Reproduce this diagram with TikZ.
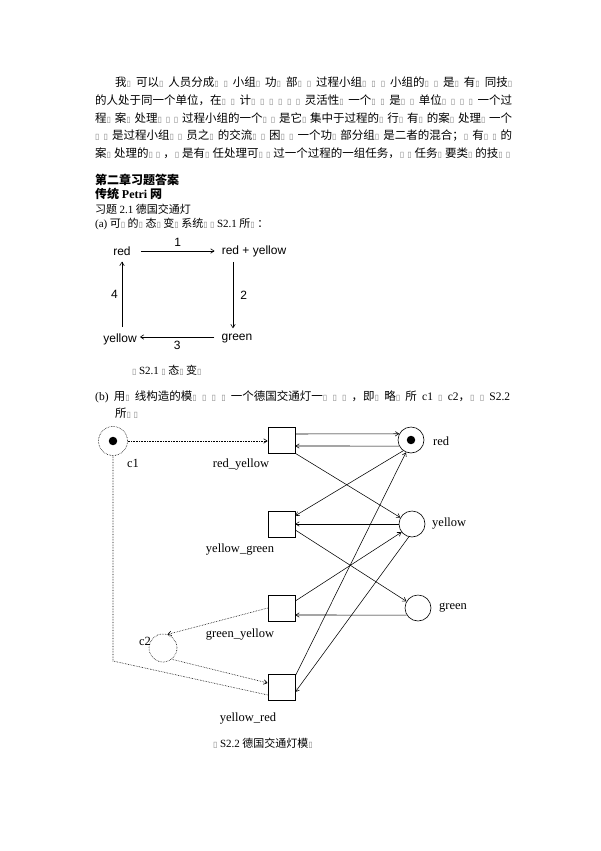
\documentclass[tikz,border=0pt]{standalone}
\usepackage{fontspec}
\setmainfont{Liberation Serif}
\setsansfont{Liberation Sans}
\newfontfamily\cjk{Noto Sans CJK SC}
\newfontfamily\dejavu{DejaVu Sans}
\usetikzlibrary{arrows.meta,positioning}
% missing-glyph box as printed in the scan
\newcommand\bx{{\dejavu\fontsize{8}{8}\selectfont\color{gray}▯}}
\newcommand\lat[1]{{\rmfamily #1}}

\begin{document}
\begin{tikzpicture}[
    x=1pt, y=-1pt,
    >={Straight Barb[length=3.5pt,width=4.5pt]},
    para/.style={inner sep=0pt, anchor=west, font=\cjk\fontsize{11.5}{14}\selectfont},
    head/.style={inner sep=0pt, anchor=west, font=\cjk\bfseries\fontsize{12}{14}\selectfont},
    state/.style={inner sep=0pt, font=\sffamily\fontsize{12}{14}\selectfont},
    num/.style={inner sep=0pt, font=\sffamily\fontsize{12}{14}\selectfont},
    arrow/.style={->, line width=0.6pt},
    trans/.style={draw, line width=0.6pt, minimum width=27pt, minimum height=26pt, inner sep=0pt},
    place/.style={draw, circle, line width=0.6pt, minimum size=26pt, inner sep=0pt},
    ctrl/.style={place, densely dotted, minimum size=29pt},
    token/.style={circle, fill=black, inner sep=3pt},
    arc/.style={->, line width=0.55pt},
    ctrlarc/.style={densely dotted, line width=0.6pt},
    lbl/.style={inner sep=0pt, font=\rmfamily\fontsize{12.5}{14}\selectfont}
]
\useasboundingbox[fill=white] (0,0) rectangle (600,851);

% Paragraph
\node[para] (p1) at (115,82) {\makebox[397pt][s]{我\bx{} 可以\bx{} 人员分成\bx{} \bx{} 小组\bx{} 功\bx{} 部\bx{} \bx{} 过程小组\bx{} \bx{} \bx{} 小组的\bx{} \bx{} 是\bx{} 有\bx{} 同技\bx}};
\node[para] (p2) at (95,100) {\makebox[417pt][s]{的人处于同一个单位，在\bx{} \bx{} 计\bx{} \bx{} \bx{} \bx{} \bx{} \bx{} 灵活性\bx{} 一个\bx{} \bx{} 是\bx{} \bx{} 单位\bx{} \bx{} \bx{} \bx{} 一个过}};
\node[para] (p3) at (95,118) {\makebox[417pt][s]{程\bx{} 案\bx{} 处理\bx{} \bx{} \bx{} 过程小组的一个\bx{} \bx{} 是它\bx{} 集中于过程的\bx{} 行\bx{} 有\bx{} 的案\bx{} 处理\bx{} 一个}};
\node[para] (p4) at (95,136) {\makebox[417pt][s]{\bx{} \bx{} 是过程小组\bx{} \bx{} 员之\bx{} 的交流\bx{} \bx{} 困\bx{} \bx{} 一个功\bx{} 部分组\bx{} 是二者的混合；\bx{} 有\bx{} \bx{} 的}};
\node[para] (p5) at (95,153) {\makebox[415pt][s]{案\bx{} 处理的\bx{} \bx{} ，\bx{} 是有\bx{} 任处理可\bx{} \bx{} 过一个过程的一组任务，\bx{} \bx{} 任务\bx{} 要类\bx{} 的技\bx{} \bx}};

% Headings
\node[head] (h1) at (95,180) {第二章习题答案};
\node[head] (h2) at (95,194) {传统 \lat{Petri} 网};
\node[para, font=\cjk\fontsize{11}{13}\selectfont] (h3) at (95,209) {习题 \lat{2.1} 德国交通灯};
\node[para, font=\cjk\fontsize{11}{13}\selectfont] (qa) at (95,224) {\lat{(a)} 可\bx{} 的\bx{} 态\bx{} 变\bx{} 系统\bx{} \bx{} \lat{S2.1} 所\bx{} ：};

% State transition system
\node[state] (ared) at (122,251) {red};
\node[state] (aredyel) at (254,251) {red + yellow};
\node[state] (agreen) at (237,339) {green};
\node[state] (ayellow) at (120,339) {yellow};
\draw[arrow] ([xshift=10pt]ared.east) -- ([xshift=-7pt]aredyel.west)
    node[num, midway, above=4pt] {1};
\draw[arrow] ([xshift=-21pt, yshift=-5pt]aredyel.south) -- ([xshift=-4pt, yshift=6pt]agreen.north)
    node[num, midway, right=7pt] {2};
\draw[arrow] ([xshift=-7pt, yshift=2pt]agreen.west) -- ([xshift=3pt, yshift=2pt]ayellow.east)
    node[num, midway, below=4pt] {3};
\draw[arrow] ([xshift=2pt, yshift=6pt]ayellow.north) -- ([yshift=-6pt]ared.south)
    node[num, midway, left=4pt] {4};
\node[para, font=\cjk\fontsize{11}{13}\selectfont] (capa) at (132,370) {\bx{} \lat{S2.1} \bx{} 态\bx{} 变\bx};

% Part (b) text
\node[para] (qb) at (95,397) {\makebox[415pt][s]{\lat{(b)} 用\bx{} 线构造的模\bx{} \bx{} \bx{} \bx{} 一个德国交通灯一\bx{} \bx{} \bx{} ，即\bx{} 略\bx{} 所 \lat{c1} \bx{} \lat{c2}，\bx{} \bx{} \lat{S2.2}}};
\node[para] (qb2) at (115,413) {所\bx{} \bx};

% Transitions
\node[trans] (ry) at (281.5,440) {};
\node[trans] (yg) at (281.5,524) {};
\node[trans] (gy) at (281.5,608) {};
\node[trans] (yr) at (281.5,687) {};
\node[lbl] at (241,465) {red\_yellow};
\node[lbl] at (240,550) {yellow\_green};
\node[lbl] at (240,635) {green\_yellow};
\node[lbl] at (248,719) {yellow\_red};

% Places
\node[place] (pred) at (411,440) {};
\node[token] at (pred) {};
\node[place] (pyel) at (412,524) {};
\node[place] (pgrn) at (418,608) {};
\node[lbl, anchor=west] at (433,441) {red};
\node[lbl, anchor=west] at (432,524) {yellow};
\node[lbl, anchor=west] at (439,608) {green};

% Control places
\node[ctrl] (c1) at (113,441) {};
\node[token] at (c1) {};
\node[ctrl, minimum size=28pt] (c2) at (163,648) {};
\node[lbl] at (133,463) {c1};
\node[lbl] at (145,641) {c2};
\coordinate (c1turn) at (113,661);

% Arcs
\draw[arc] ([yshift=6pt]ry.east) -- (pred.152.5);
\draw[arc] (pred.207.5) -- ([yshift=-6pt]ry.east);
\draw[arc] (ry.south east) -- (pyel.151);
\draw[arc] (pred.234) -- ([yshift=-5pt]yg.north east);
\draw[arc] (pyel.west) -- (yg.east);
\draw[arc] ([yshift=-6pt]yg.east) -- (pgrn.150);
\draw[arc] ([yshift=7pt]gy.east) -- (pyel.218);
\draw[arc] (pgrn.212.6) -- ([yshift=-7pt]gy.east);
\draw[arc] ([yshift=11pt]yr.east) -- (pred.248);
\draw[arc] (pyel.256) -- ([yshift=-5pt]yr.east);

% Control arcs
\draw[ctrlarc, ->] (c1.east) -- (c1.east -| ry.west);
\draw[ctrlarc, ->] (gy.west) -- (c2.72);
\draw[ctrlarc, ->] (c2.-52) -- ([yshift=4pt]yr.west);
\draw[ctrlarc] (c1.south) -- (c1turn) -- ([yshift=-8pt]yr.west);

\node[para, font=\cjk\fontsize{11}{13}\selectfont] (capb) at (213,743) {\bx{} \lat{S2.2} 德国交通灯模\bx};

\end{tikzpicture}
\end{document}
